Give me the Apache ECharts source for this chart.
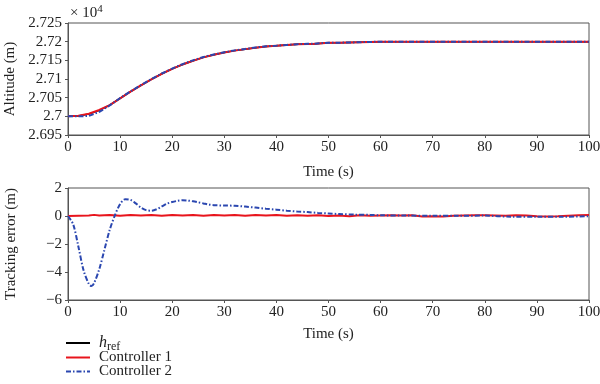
<!DOCTYPE html>
<html><head><meta charset="utf-8">
<script src="https://cdn.jsdelivr.net/npm/echarts@6/dist/echarts.min.js"></script>
<style>html,body{margin:0;padding:0;background:#fff}#c{width:600px;height:384px}</style>
</head><body><div id="c"></div>
<script>
// ---- Top panel: altitude (m) ----
const altTime = [0,2,4,6,8,10,12,14,16,18,20,22,24,26,28,30,32,34,36,38,40,42,44,46,47,47.1,50,52,52.1,60,70,80,90,100];
const altRef  = [27000,27001,27006,27016,27030,27048,27066,27083,27099,27114,27127,27139,27149,27158,27165,27171,27176,27180,27184,27187,27189,27191,27193,27194,27194,27197,27197,27197,27200,27200,27200,27200,27200,27200];
const altC1   = [27000,27001.5,27007,27017,27030,27048,27066,27083,27099,27114,27127,27139,27149,27158,27165,27171,27176,27180,27184,27187,27189,27191,27193,27194,27194,27197,27197,27197,27200,27200,27200,27200,27200,27200];
const altC2   = [27000,27000,27001,27012,27029,27049,27067,27083.5,27099.5,27114.8,27128,27140,27150,27158.8,27165.8,27171.8,27176.7,27180.6,27184.6,27187.5,27189.4,27191.4,27193.3,27194.3,27194.2,27197.2,27197.2,27197.1,27200.1,27200,27200,27200,27200,27200];
const altTicks = [26950,27000,27050,27100,27150,27200,27250];
const altTickLabels = ['2.695','2.7','2.705','2.71','2.715','2.72','2.725'];

// ---- Bottom panel: tracking error (m) ----
const errTimeC2 = [0,1,2,3,4,4.5,5,6,7,8,9,10,11,12,13,14,15,16,17,18,19,20,21,22,23,24,25,26,27,28,30,32,34,36,38,40,42,44,46,48,50,52,55,58,60,65,70,75,80,85,90,95,100];
const errC2 = [0,-0.6,-2.2,-3.9,-4.85,-5.0,-4.8,-3.8,-2.4,-1.0,0.05,0.85,1.2,1.15,0.9,0.6,0.42,0.38,0.48,0.68,0.88,1.0,1.08,1.12,1.1,1.05,0.98,0.9,0.82,0.77,0.75,0.73,0.67,0.6,0.52,0.45,0.38,0.32,0.28,0.22,0.18,0.14,0.1,0.08,0.05,0.03,0.02,0.02,0.03,-0.05,-0.05,-0.05,-0.02];
const errTimeC1 = [0,2,4,5,6,8,10,12,14,16,18,20,22,24,26,28,30,32,34,36,38,40,42,44,46,48,50,52,54,56,58,60,62,64,66,68,70,72,74,76,78,80,82,84,86,88,90,92,94,96,98,100];
const errC1 = [0,0.02,0.04,0.08,0.03,0.07,0.02,0.08,0.03,0.07,0.02,0.08,0.03,0.07,0.02,0.08,0.04,0.07,0.02,0.08,0.03,0.07,0.02,0.06,0.02,0.05,0,0.04,-0.02,0.05,0.02,0.04,0.06,0.03,0.05,-0.03,-0.02,-0.03,0.02,0.04,0.06,0.05,0.04,0.02,0.06,0.03,-0.02,-0.03,-0.02,0.02,0.06,0.07];

const legendNames = ['href','Controller 1','Controller 2'];

const FONT = 'Liberation Serif';
const AX = '#555';
const TXT = '#222';
const RED = '#e8141c';
const BLUE = '#2b47b0';
const DASHDOT = [5,2,1.5,2];
const zip = (a,b) => a.map((v,i)=>[v,b[i]]);

const chart = echarts.init(document.getElementById('c'), null, {renderer:'canvas'});

function xAxis(gi){
  return {gridIndex:gi, type:'value', min:0, max:100, interval:10,
    name:'Time (s)', nameLocation:'middle', nameGap: gi===0?30:27,
    nameTextStyle:{fontFamily:FONT,fontSize:15,color:TXT},
    axisLine:{show:true,onZero:false,lineStyle:{color:AX,width:1}},
    axisTick:{show:true,length:3,lineStyle:{color:AX}},
    axisLabel:{fontFamily:FONT,fontSize:15,color:TXT,margin:5},
    splitLine:{show:false}};
}
function yCommon(){
  return {axisLine:{show:true,lineStyle:{color:AX}},
    axisTick:{show:true,length:3,lineStyle:{color:AX}},
    nameLocation:'middle',nameGap:49,
    nameTextStyle:{fontFamily:FONT,fontSize:15,color:TXT},
    splitLine:{show:false}};
}

const lg = [
  {y:343, color:'#000', dash:null},
  {y:357.5, color:RED, dash:null},
  {y:371.5, color:BLUE, dash:DASHDOT}
];
const legendGraphics = [];
legendNames.forEach((n,i)=>{
  legendGraphics.push({type:'line',shape:{x1:66,y1:lg[i].y,x2:90,y2:lg[i].y},
    style:{stroke:lg[i].color,lineWidth:2,lineDash:lg[i].dash}});
  legendGraphics.push({type:'text',x:99,y:lg[i].y,style:{
    text: n==='href' ? '{i|h}{s|ref}' : n,
    fontFamily:FONT,fontSize:15,fill:TXT,verticalAlign:'middle',
    rich:{i:{fontFamily:FONT,fontStyle:'italic',fontSize:16,fill:TXT},
          s:{fontFamily:FONT,fontSize:12,fill:TXT,padding:[8,0,0,0]}}}});
});

const option = {
  animation:false,
  backgroundColor:'#fff',
  grid:[
    {left:68,right:11,top:23,height:112,show:true,borderColor:AX,borderWidth:1,outerBoundsMode:'none',containLabel:false},
    {left:68,right:11,top:188,height:112,show:true,borderColor:AX,borderWidth:1,outerBoundsMode:'none',containLabel:false}
  ],
  xAxis:[xAxis(0), xAxis(1)],
  yAxis:[
    Object.assign(yCommon(),{gridIndex:0,type:'value',min:26950,max:27250,interval:50,
     name:'Altitude (m)',
     axisLabel:{fontFamily:FONT,fontSize:15,color:TXT,margin:6,
       formatter:(v)=>{const i=altTicks.indexOf(Math.round(v));return i>=0?altTickLabels[i]:'';}}}),
    Object.assign(yCommon(),{gridIndex:1,type:'value',min:-6,max:2,interval:2,
     name:'Tracking error (m)',
     axisLabel:{fontFamily:FONT,fontSize:15,color:TXT,margin:6,
       formatter:(v)=> v<0 ? '\u2212'+Math.abs(v) : String(v)}})
  ],
  graphic:[{type:'text',left:70,top:4,style:{
    text:'{a|× 10}{b|4}',
    rich:{a:{fontFamily:FONT,fontSize:15,fill:TXT},
          b:{fontFamily:FONT,fontSize:11,fill:TXT,padding:[0,0,8,0]}}}}].concat(legendGraphics),
  series:[
    {name:legendNames[0],type:'line',xAxisIndex:0,yAxisIndex:0,data:zip(altTime,altRef),
     showSymbol:false,symbol:'none',lineStyle:{color:'#000',width:1.5}},
    {name:legendNames[1],type:'line',xAxisIndex:0,yAxisIndex:0,data:zip(altTime,altC1),
     showSymbol:false,symbol:'none',lineStyle:{color:RED,width:2}},
    {name:legendNames[2],type:'line',xAxisIndex:0,yAxisIndex:0,data:zip(altTime,altC2),
     showSymbol:false,symbol:'none',lineStyle:{color:BLUE,width:2,type:DASHDOT}},
    {name:legendNames[1],type:'line',xAxisIndex:1,yAxisIndex:1,data:zip(errTimeC1,errC1),
     showSymbol:false,symbol:'none',lineStyle:{color:RED,width:2}},
    {name:legendNames[2],type:'line',xAxisIndex:1,yAxisIndex:1,data:zip(errTimeC2,errC2),smooth:0.3,
     showSymbol:false,symbol:'none',lineStyle:{color:BLUE,width:2,type:DASHDOT}}
  ]
};
chart.setOption(option);
</script></body></html>
